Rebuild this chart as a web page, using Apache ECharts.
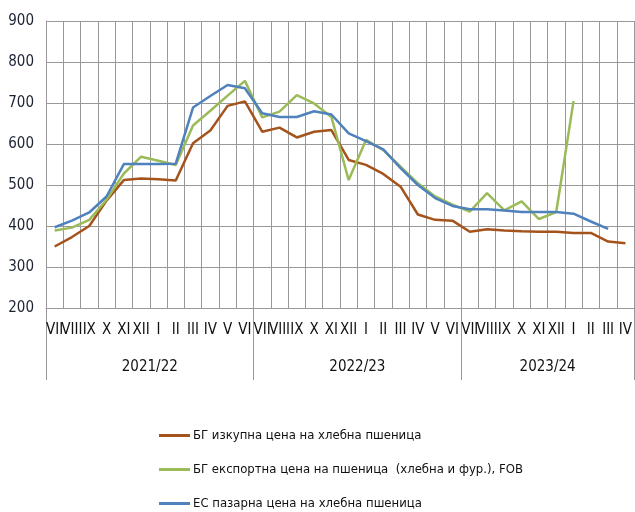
<!DOCTYPE html>
<html>
<head>
<meta charset="utf-8">
<script src="https://cdn.jsdelivr.net/npm/echarts@6/dist/echarts.min.js"></script>
<style>
html,body{margin:0;padding:0;background:#fff;}
#c{width:635px;height:512px;}
</style>
</head>
<body>
<div id="c"></div>
<script>
const months = ['VII','VIII','IX','X','XI','XII','I','II','III','IV','V','VI',
                'VII','VIII','IX','X','XI','XII','I','II','III','IV','V','VI',
                'VII','VIII','IX','X','XI','XII','I','II','III','IV'];
const seasons = ['2021/22','2022/23','2023/24'];
const seasonStarts = [0, 12, 24, 34];
const seasonCenters = [6, 18, 29];
const yTicks = [200, 300, 400, 500, 600, 700, 800, 900];

const seriesNames = [
  'БГ изкупна цена на хлебна пшеница',
  'БГ експортна цена на пшеница  (хлебна и фур.), FOB',
  'ЕС пазарна цена на хлебна пшеница'
];
const bgPurchase = [350, 373, 400, 462, 512, 516, 514, 511, 602, 633, 693, 704,
                    630, 640, 616, 630, 634, 561, 549, 527, 496, 428, 415, 413,
                    386, 392, 389, 387, 386, 386, 383, 383, 362, 358];
const bgExport = [389, 396, 415, 464, 528, 569, 559, 549, 645, 681, 718, 754,
                  665, 679, 719, 699, 666, 512, 610, 585, 545, 504, 472, 452,
                  435, 480, 438, 460, 417, 434, 705, null, null, null];
const euMarket = [397, 413, 433, 472, 551, 551, 551, 552, 689, 717, 744, 736,
                  675, 666, 666, 680, 672, 626, 607, 587, 541, 500, 468, 449,
                  441, 441, 438, 434, 434, 434, 430, 411, 393, null];
const colors = ['#A5531C', '#9BBB59', '#4F81BD'];

const FONT = "'DejaVu Sans Condensed','Liberation Sans Narrow','Arial Narrow',sans-serif";
const chart = echarts.init(document.getElementById('c'), null, {renderer: 'canvas'});
const values = [bgPurchase, bgExport, euMarket];
chart.setOption({
  animation: false,
  backgroundColor: '#fff',
  grid: {left: 46, top: 21, width: 590, height: 287, containLabel: false},
  legend: {
    orient: 'vertical',
    left: 159,
    top: 429,
    padding: 0,
    height: 90,
    itemGap: 21,
    itemWidth: 31,
    itemHeight: 3,
    icon: 'rect',
    textStyle: {fontFamily: FONT, fontSize: 13, color: '#111', padding: [0, 0, 0, -2]},
    data: seriesNames
  },
  xAxis: [{
    type: 'category',
    data: months,
    boundaryGap: true,
    axisLine: {show: true, lineStyle: {color: '#999', width: 1}},
    axisTick: {show: false},
    axisLabel: {interval: 0, hideOverlap: false, margin: 15, fontFamily: FONT, fontSize: 15, color: '#111'},
    splitLine: {show: true, interval: 0, lineStyle: {color: '#999', width: 1}}
  }, {
    type: 'value',
    position: 'bottom',
    min: 0,
    max: 34,
    axisLine: {show: false},
    splitLine: {show: false},
    axisTick: {show: true, customValues: seasonStarts, length: 72, lineStyle: {color: '#999', width: 1}},
    axisLabel: {
      customValues: seasonCenters,
      margin: 52,
      fontFamily: FONT, fontSize: 15, color: '#111',
      formatter: function (v) { const i = seasonCenters.indexOf(v); return i >= 0 ? seasons[i] : ''; }
    }
  }],
  yAxis: {
    type: 'value',
    min: yTicks[0],
    max: yTicks[yTicks.length - 1],
    interval: 100,
    axisLine: {show: true, lineStyle: {color: '#999', width: 1}},
    axisTick: {show: false},
    axisLabel: {margin: 12, fontFamily: FONT, fontSize: 15, color: '#1c2333'},
    splitLine: {show: true, lineStyle: {color: '#999', width: 1}}
  },
  series: seriesNames.map((n, i) => ({
    name: n,
    type: 'line',
    xAxisIndex: 0,
    data: values[i],
    symbol: 'none',
    connectNulls: false,
    lineStyle: {width: 2.5, color: colors[i]},
    itemStyle: {color: colors[i]}
  }))
});
</script>
</body>
</html>
